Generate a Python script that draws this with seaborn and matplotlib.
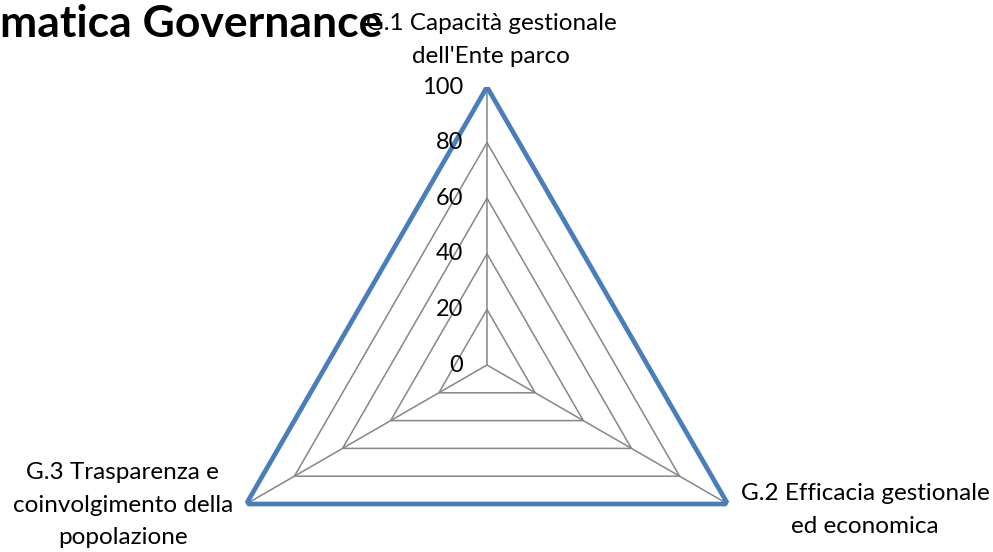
import numpy as np
import pandas as pd
import matplotlib
matplotlib.use("Agg")
import matplotlib.pyplot as plt
import seaborn as sns

# ---- data ----
categories = ["G.1 Capacità gestionale\ndell'Ente parco",
              "G.2 Efficacia gestionale\ned economica",
              "G.3 Trasparenza e\ncoinvolgimento della\npopolazione"]
values = [100, 100, 100]
ring_levels = [0, 20, 40, 60, 80, 100]
tick_labels = ["0", "20", "40", "60", "80", "100"]
title_text = "matica Governance"

sns.set_theme(style="white")
plt.rcParams['font.family'] = ['Lato', 'DejaVu Sans']

W, H = 993, 552
fig = plt.figure(figsize=(W / 100, H / 100), dpi=100)
cx, cy, R = 487, 365, 278
ax = fig.add_axes([(cx - R) / W, (H - cy - R) / H, 2 * R / W, 2 * R / H], projection='polar')
ax.set_theta_zero_location('N')
ax.set_theta_direction(-1)
ax.set_ylim(0, 100)
ax.grid(False)
ax.set_xticks([])
ax.set_yticks([])
ax.spines['polar'].set_visible(False)
ax.patch.set_alpha(0)

n = len(categories)
angles = np.arange(n) * 2 * np.pi / n
closed = np.concatenate([angles, angles[:1]])

grid_col = "#868686"
for lv in ring_levels[1:]:
    ax.plot(closed, [lv] * (n + 1), color=grid_col, lw=1.1, zorder=1)
for a in angles:
    ax.plot([a, a], [0, ring_levels[-1]], color=grid_col, lw=1.1, zorder=1)

df = pd.DataFrame({"theta": closed, "r": list(values) + values[:1]})
sns.lineplot(data=df, x="theta", y="r", sort=False, estimator=None, ax=ax,
             color="#4A7EBB", lw=3.4, zorder=3)
ax.set_xlabel("")
ax.set_ylabel("")

for lv, lab in zip(ring_levels, tick_labels):
    ax.annotate(lab, xy=(0, lv), xytext=(-17, 0), textcoords='offset points',
                ha='right', va='center', fontsize=17, color='black')

offsets = [(3, 34), (99, -4.5), (-89, -1)]
for a, lab, off in zip(angles, categories, offsets):
    ax.annotate(lab, xy=(a, 100), xytext=off, textcoords='offset points',
                ha='center', va='center', multialignment='center',
                fontsize=17.5, color='black', linespacing=1.68, annotation_clip=False)

fig.text(0 / W, 1 - 37 / H, title_text, fontsize=32, fontweight='bold',
         ha='left', va='baseline', color='black', zorder=5)

fig.savefig("out.png", dpi=100, facecolor='white')
